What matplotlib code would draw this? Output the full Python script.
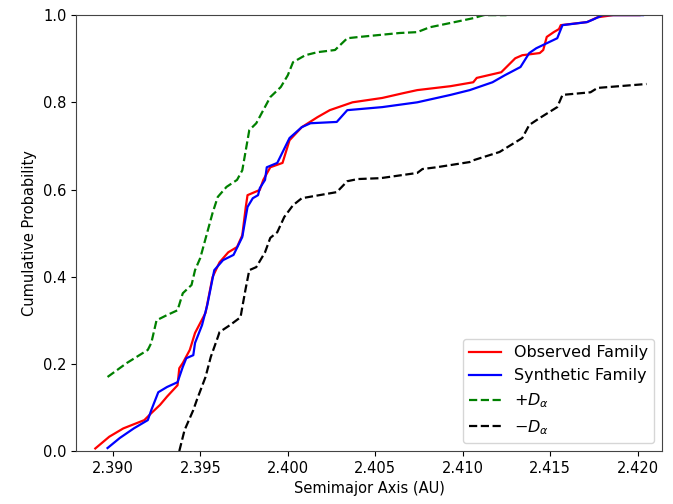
import numpy as np
import matplotlib
matplotlib.use('Agg')
import matplotlib.pyplot as plt

# observed family
obs_a = [2.3890, 2.3898, 2.3906, 2.3918, 2.3922, 2.3927, 2.3931, 2.3937, 2.3938, 2.3940,
         2.3944, 2.3947, 2.3953, 2.3957, 2.3961, 2.3966, 2.3971, 2.3974, 2.3976, 2.3977,
         2.3984, 2.3986, 2.3990, 2.3997, 2.4001, 2.4008, 2.4017, 2.4024, 2.4037, 2.4054,
         2.4066, 2.4074, 2.4093, 2.4106, 2.4108, 2.4122, 2.4125, 2.4130, 2.4134, 2.4144,
         2.4146, 2.4148, 2.4152, 2.4155, 2.4156, 2.4171, 2.4177, 2.4186, 2.4201]
obs_p = [0.006, 0.033, 0.052, 0.071, 0.087, 0.106, 0.125, 0.151, 0.190, 0.202,
         0.232, 0.271, 0.317, 0.399, 0.433, 0.456, 0.468, 0.495, 0.560, 0.587,
         0.599, 0.622, 0.651, 0.661, 0.713, 0.743, 0.766, 0.782, 0.800, 0.810,
         0.821, 0.828, 0.837, 0.846, 0.856, 0.869, 0.881, 0.901, 0.908, 0.913,
         0.920, 0.950, 0.961, 0.968, 0.977, 0.984, 0.995, 1.000, 1.000]

# synthetic family
syn_a = [2.3897, 2.3904, 2.3912, 2.3920, 2.3922, 2.3926, 2.3931, 2.3937, 2.3940, 2.3942,
         2.3946, 2.3947, 2.3951, 2.3954, 2.3958, 2.3963, 2.3969, 2.3974, 2.3977, 2.3980,
         2.3983, 2.3984, 2.3987, 2.3988, 2.3994, 2.4001, 2.4008, 2.4013, 2.4028, 2.4034,
         2.4054, 2.4074, 2.4093, 2.4104, 2.4117, 2.4124, 2.4133, 2.4138, 2.4142, 2.4154,
         2.4157, 2.4171, 2.4174, 2.4180, 2.4203]
syn_p = [0.007, 0.030, 0.052, 0.071, 0.094, 0.135, 0.147, 0.158, 0.193, 0.213,
         0.220, 0.248, 0.289, 0.335, 0.415, 0.438, 0.450, 0.491, 0.560, 0.580,
         0.587, 0.603, 0.622, 0.651, 0.661, 0.718, 0.743, 0.752, 0.755, 0.782,
         0.789, 0.800, 0.817, 0.828, 0.846, 0.862, 0.881, 0.913, 0.924, 0.947,
         0.977, 0.984, 0.989, 1.000, 1.000]

# +D_alpha band
plus_a = [2.3897, 2.3908, 2.3920, 2.3922, 2.3925, 2.3931, 2.3937, 2.3940, 2.3945, 2.3947,
          2.3950, 2.3957, 2.3960, 2.3965, 2.3971, 2.3974, 2.3977, 2.3978, 2.3982, 2.3986,
          2.3990, 2.3996, 2.4000, 2.4003, 2.4010, 2.4017, 2.4027, 2.4034, 2.4041, 2.4064,
          2.4074, 2.4081, 2.4093, 2.4106, 2.4112, 2.4125]
plus_p = [0.170, 0.202, 0.232, 0.248, 0.300, 0.312, 0.323, 0.362, 0.381, 0.415,
          0.443, 0.546, 0.583, 0.606, 0.622, 0.644, 0.713, 0.736, 0.752, 0.782,
          0.812, 0.835, 0.862, 0.892, 0.908, 0.915, 0.920, 0.947, 0.950, 0.959,
          0.961, 0.972, 0.982, 0.993, 1.000, 1.000]

# -D_alpha band
minus_a = [2.3938, 2.3941, 2.3946, 2.3948, 2.3953, 2.3956, 2.3960, 2.3961, 2.3967, 2.3973,
           2.3974, 2.3976, 2.3978, 2.3982, 2.3987, 2.3990, 2.3994, 2.3998, 2.4003, 2.4008,
           2.4018, 2.4028, 2.4034, 2.4040, 2.4053, 2.4074, 2.4077, 2.4085, 2.4104, 2.4106,
           2.4121, 2.4134, 2.4138, 2.4144, 2.4154, 2.4157, 2.4173, 2.4177, 2.4205]
minus_p = [0.000, 0.048, 0.094, 0.117, 0.170, 0.216, 0.261, 0.273, 0.289, 0.307,
           0.330, 0.374, 0.415, 0.422, 0.456, 0.489, 0.502, 0.537, 0.564, 0.580,
           0.587, 0.594, 0.619, 0.624, 0.626, 0.638, 0.647, 0.651, 0.663, 0.667,
           0.686, 0.718, 0.748, 0.764, 0.789, 0.817, 0.823, 0.833, 0.842]

plt.rcParams['font.size'] = 10.5
plt.rcParams['axes.edgecolor'] = '#444444'

fig = plt.figure(figsize=(6.73, 5.04), dpi=100)
ax = fig.add_axes([0.113, 0.105, 0.871, 0.865])

ax.plot(obs_a, obs_p, color='red', lw=1.6, label='Observed Family')
ax.plot(syn_a, syn_p, color='blue', lw=1.6, label='Synthetic Family')
ax.plot(plus_a, plus_p, color='green', lw=1.6, ls='--', label=r'$+D_\alpha$')
ax.plot(minus_a, minus_p, color='black', lw=1.6, ls='--', label=r'$-D_\alpha$')

ax.set_xlim(2.3879, 2.4214)
ax.set_ylim(0, 1.0)
ax.set_xticks([2.390, 2.395, 2.400, 2.405, 2.410, 2.415, 2.420])
ax.set_xticklabels(['2.390', '2.395', '2.400', '2.405', '2.410', '2.415', '2.420'])
ax.set_yticks([0.0, 0.2, 0.4, 0.6, 0.8, 1.0])
ax.set_xlabel('Semimajor Axis (AU)')
ax.set_ylabel('Cumulative Probability')
ax.legend(loc='lower right', fontsize=11.5)

fig.savefig('out.png', dpi=100)
